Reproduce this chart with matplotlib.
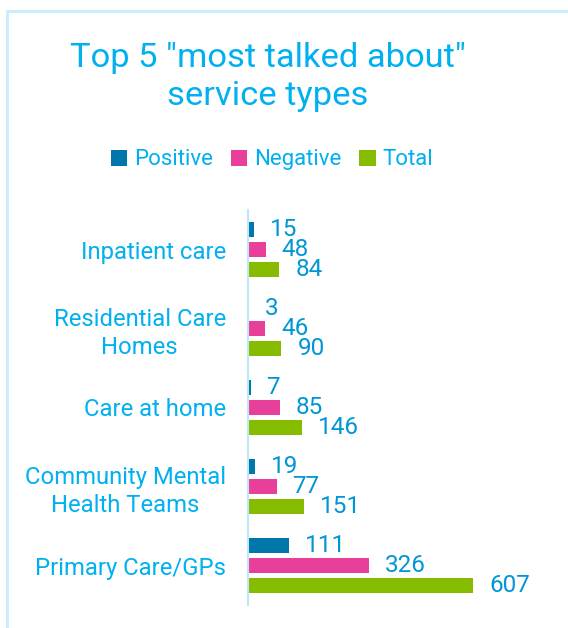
import numpy as np
import matplotlib
matplotlib.use("Agg")
import matplotlib.pyplot as plt
from matplotlib.patches import Patch
from matplotlib.lines import Line2D

# data
categories = ["Inpatient care", "Residential Care\nHomes", "Care at home",
              "Community Mental\nHealth Teams", "Primary Care/GPs"]
positive = [15, 3, 7, 19, 111]
negative = [48, 46, 85, 77, 326]
total = [84, 90, 146, 151, 607]
series_names = ["Positive", "Negative", "Total"]

colors = ["#0077AA", "#E8409A", "#86BC00"]
text_blue = "#00B0F0"
label_blue = "#0096D6"
frame_blue = "#C8EEFB"

plt.rcParams['font.family'] = ['Roboto', 'DejaVu Sans']

fig = plt.figure(figsize=(5.68, 6.28), dpi=100)
ax = fig.add_axes([248 / 568, 1 - 605 / 628, (545 - 248) / 568, 395 / 628])

pitch = 0.254
h = 0.197
y = np.arange(len(categories))
for j, (vals, c) in enumerate(zip([positive, negative, total], colors)):
    ax.barh(y + (j - 1) * pitch, vals, height=h, color=c, edgecolor="none")
    for yi, v in zip(y, vals):
        ax.annotate(str(v), (v, yi + (j - 1) * pitch), xytext=(16, 0),
                    textcoords="offset pixels", va="center", ha="left",
                    fontsize=17.5, color=label_blue)

ax.set_ylim(4.5, -0.5)
ax.set_xlim(0, (545 - 248) / 0.3712)
ax.set_yticks(y)
ax.set_yticklabels(categories, fontsize=17.2, color=text_blue,
                   multialignment="center", linespacing=1.3)
ax.tick_params(axis="y", length=0, pad=16)
ax.set_xticks([])
for s in ["top", "right", "bottom"]:
    ax.spines[s].set_visible(False)
ax.spines["left"].set_color("#BDE6F6")
ax.spines["left"].set_linewidth(1.5)

# title and legend
fig.text(268 / 568, 1 - 77 / 628, 'Top 5 "most talked about"\nservice types',
         ha="center", va="center", fontsize=24.8, color=text_blue,
         linespacing=1.24)
handles = [Patch(facecolor=c, edgecolor="none") for c in colors]
leg = fig.legend(handles, series_names, loc="center", ncol=3,
                 bbox_to_anchor=(272 / 568, 1 - 160 / 628), frameon=False,
                 fontsize=16, handlelength=0.75, handleheight=0.75,
                 handletextpad=0.3, columnspacing=0.8)
for t in leg.get_texts():
    t.set_color(text_blue)

# light frame around the chart area
fig.add_artist(Line2D([7 / 568, 1], [1 - 11 / 628] * 2, color=frame_blue,
                      lw=2, transform=fig.transFigure))
fig.add_artist(Line2D([7 / 568] * 2, [0, 1 - 11 / 628], color=frame_blue,
                      lw=2, transform=fig.transFigure))

fig.savefig("out.png", dpi=100)
